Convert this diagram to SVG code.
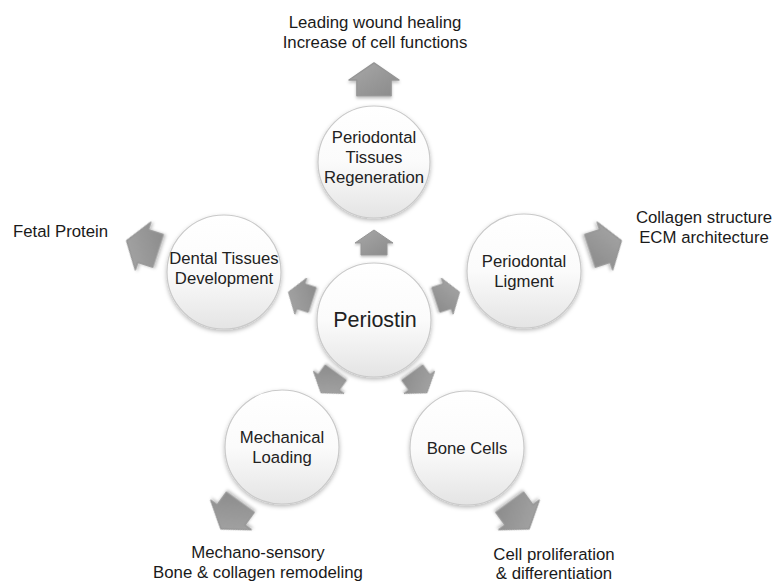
<svg xmlns="http://www.w3.org/2000/svg" width="784" height="584" viewBox="0 0 784 584">
<defs>
<linearGradient id="cg" x1="0" y1="0" x2="0" y2="1">
<stop offset="0" stop-color="#ffffff"/>
<stop offset="0.5" stop-color="#fbfbfb"/>
<stop offset="1" stop-color="#e4e4e4"/>
</linearGradient>
<linearGradient id="ag" x1="0" y1="0" x2="1" y2="1">
<stop offset="0" stop-color="#a8a8a8"/>
<stop offset="1" stop-color="#8a8a8a"/>
</linearGradient>
<filter id="sh" x="-20%" y="-20%" width="140%" height="150%">
<feDropShadow dx="0" dy="2" stdDeviation="2" flood-color="#000" flood-opacity="0.28"/>
</filter>
<filter id="ash" x="-30%" y="-30%" width="160%" height="160%">
<feDropShadow dx="0" dy="1.5" stdDeviation="1.2" flood-color="#000" flood-opacity="0.25"/>
</filter>
<path id="arr" d="M0,-13 L19,0 L13,0 L13,12 L-13,12 L-13,0 L-19,0 Z"/>
</defs>
<style>
.c{fill:url(#cg);stroke:#c9c9c9;stroke-width:1.2;filter:url(#sh)}
.t{font-family:"Liberation Sans",Arial,sans-serif;font-size:16.7px;fill:#222;text-anchor:middle}
.big{font-size:21.5px}
.a{fill:url(#ag);stroke:#959595;stroke-width:1;stroke-linejoin:round;filter:url(#ash)}
.l{font-family:"Liberation Sans",Arial,sans-serif;font-size:16.8px;fill:#1a1a1a;text-anchor:middle}
</style>
<rect width="784" height="584" fill="#ffffff"/>

<g id="connectors">
<use href="#arr" class="a" transform="translate(374,243)"/>
<use href="#arr" class="a" transform="translate(300.8,296.2) rotate(-72)"/>
<use href="#arr" class="a" transform="translate(447.2,296.2) rotate(72)"/>
<use href="#arr" class="a" transform="translate(328.7,382.3) rotate(-144)"/>
<use href="#arr" class="a" transform="translate(419.3,382.3) rotate(144)"/>
<use href="#arr" class="a" transform="translate(374,80) scale(1.32)"/>
<use href="#arr" class="a" transform="translate(143,246) rotate(-72) scale(1.32)"/>
<use href="#arr" class="a" transform="translate(605,246) rotate(72) scale(1.32)"/>
<use href="#arr" class="a" transform="translate(231,515) rotate(-144) scale(1.32)"/>
<use href="#arr" class="a" transform="translate(519,515) rotate(144) scale(1.32)"/>
</g>

<g id="periostin">
<circle class="c" cx="374" cy="320" r="57"/>
<text class="t big" x="375" y="327">Periostin</text>
</g>
<g id="regeneration">
<circle class="c" cx="374" cy="162" r="56"/>
<text class="t" x="374" y="143">Periodontal</text>
<text class="t" x="374" y="163">Tissues</text>
<text class="t" x="374" y="183">Regeneration</text>
</g>
<g id="dental">
<circle class="c" cx="224" cy="272" r="57"/>
<text class="t" x="224" y="264">Dental Tissues</text>
<text class="t" x="224" y="284">Development</text>
</g>
<g id="ligment">
<circle class="c" cx="524" cy="271" r="57"/>
<text class="t" x="524" y="267">Periodontal</text>
<text class="t" x="524" y="287">Ligment</text>
</g>
<g id="mechanical">
<circle class="c" cx="282" cy="447" r="57"/>
<text class="t" x="282" y="443">Mechanical</text>
<text class="t" x="282" y="463">Loading</text>
</g>
<g id="bone">
<circle class="c" cx="467" cy="448" r="57"/>
<text class="t" x="467" y="454">Bone Cells</text>
</g>

<g id="label-top">
<text class="l" x="375" y="28">Leading wound healing</text>
<text class="l" x="375" y="48">Increase of cell functions</text>
</g>
<g id="label-fetal">
<text class="l" x="13" y="237" style="text-anchor:start">Fetal Protein</text>
</g>
<g id="label-collagen">
<text class="l" x="704" y="223">Collagen structure</text>
<text class="l" x="704" y="243">ECM architecture</text>
</g>
<g id="label-mechano">
<text class="l" x="258" y="558">Mechano-sensory</text>
<text class="l" x="258" y="578">Bone &amp; collagen remodeling</text>
</g>
<g id="label-cell">
<text class="l" x="554" y="560">Cell proliferation</text>
<text class="l" x="554" y="579">&amp; differentiation</text>
</g>
</svg>
